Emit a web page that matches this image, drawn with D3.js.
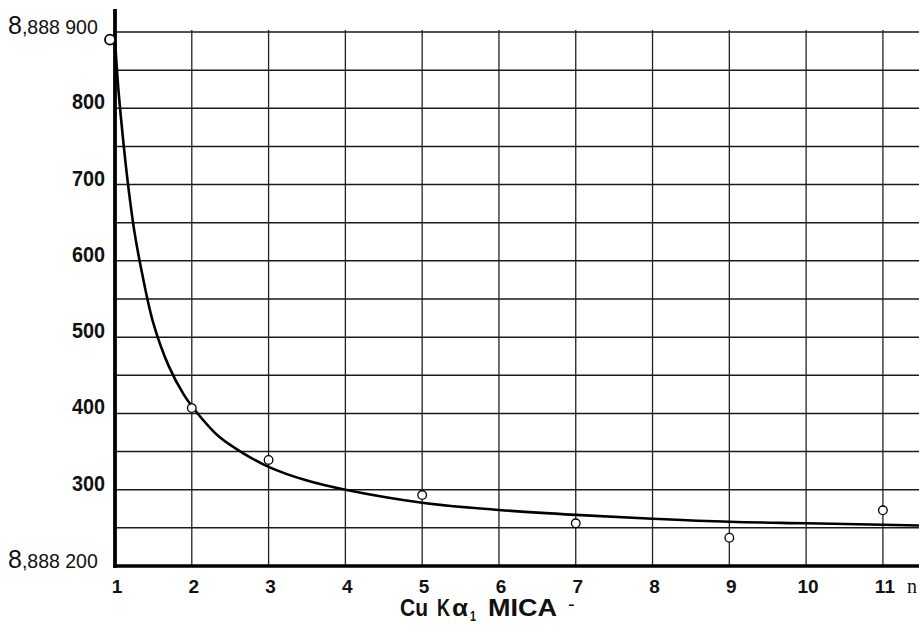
<!DOCTYPE html>
<html>
<head>
<meta charset="utf-8">
<script src="https://cdn.jsdelivr.net/npm/d3@7"></script>
<style>
  html, body { margin: 0; padding: 0; background: #fff; }
  svg { display: block; }
  .lab { font-family: "Liberation Sans", Arial, sans-serif; fill: #111; }
</style>
</head>
<body>
<svg id="chart" width="919" height="630"></svg>
<script>
// ---- data ----
const xTicks = [1, 2, 3, 4, 5, 6, 7, 8, 9, 10, 11];
const yTicks = [300, 400, 500, 600, 700, 800];
const yGrid = [200, 250, 300, 350, 400, 450, 500, 550, 600, 650, 700, 750, 800, 850, 900];
const yEndLabels = [{big: "8", rest: ",888 900", v: 900}, {big: "8", rest: ",888 200", v: 200}];
const pointN = [1, 2, 3, 5, 7, 9, 11];
const pointV = [890, 407, 339, 293, 256, 237, 273];
const curveN = [1, 1.04, 1.08, 1.12, 1.17, 1.25, 1.35, 1.5, 1.7, 1.9, 2.1, 2.35, 2.65, 3, 3.5, 4, 5, 6, 7, 8, 9, 10, 11, 11.47];
const curveV = [890, 830, 785, 745, 700, 640, 585, 518, 462, 424, 397, 370, 349, 330, 312, 300, 283, 273.5, 267, 262, 258, 256, 254, 253];

// title pieces: text, left edge, width, size, baseline shift
const titleParts = [
  {t: "Cu", x: 400, w: 28, s: 23, dy: 0},
  {t: "K", x: 437, w: 13, s: 23, dy: 0},
  {t: "α", x: 452, w: 16, s: 23, dy: 0},
  {t: "1", x: 470, w: 6, s: 14, dy: 5},
  {t: "MICA", x: 488, w: 69, s: 23, dy: 0}
];

const svg = d3.select("#chart");
const x = d3.scaleLinear().domain([1, 11.47]).range([115, 919]);
const y = d3.scaleLinear().domain([200, 900]).range([566, 32]);

// horizontal grid
svg.append("g").selectAll("line").data(yGrid.filter(v => v !== 200)).join("line")
  .attr("x1", x(1)).attr("x2", 919)
  .attr("y1", d => y(d)).attr("y2", d => y(d))
  .attr("stroke", "#1a1a1a").attr("stroke-width", 1.5);

// vertical grid
svg.append("g").selectAll("line").data(xTicks.filter(n => n > 1)).join("line")
  .attr("x1", d => x(d)).attr("x2", d => x(d))
  .attr("y1", y(900) - 2).attr("y2", y(200))
  .attr("stroke", "#222").attr("stroke-width", 1.3);

// axes (thick)
svg.append("line").attr("x1", x(1)).attr("x2", x(1)).attr("y1", 9).attr("y2", y(200) + 2)
  .attr("stroke", "#000").attr("stroke-width", 3.8);
svg.append("line").attr("x1", x(1) - 1.5).attr("x2", 919).attr("y1", y(200)).attr("y2", y(200))
  .attr("stroke", "#000").attr("stroke-width", 3.5);

// curve
const pts = curveN.map((n, i) => [n, curveV[i]]);
svg.append("path")
  .attr("d", d3.line().x(d => x(d[0])).y(d => y(d[1])).curve(d3.curveCatmullRom.alpha(0.5))(pts))
  .attr("fill", "none").attr("stroke", "#000").attr("stroke-width", 2.6);

// points
svg.append("g").selectAll("circle").data(pointN.map((n, i) => [n, pointV[i]])).join("circle")
  .attr("cx", d => x(d[0]) - (d[0] === 1 ? 5 : 0)).attr("cy", d => y(d[1]))
  .attr("r", d => d[0] === 1 ? 5 : 4.3)
  .attr("fill", "#fff").attr("stroke", "#000").attr("stroke-width", d => d[0] === 1 ? 1.8 : 1.3);

// y labels
svg.append("g").selectAll("text").data(yTicks).join("text")
  .attr("class", "lab")
  .attr("x", x(1) - 10).attr("y", d => y(d) + 1)
  .attr("text-anchor", "end")
  .attr("font-size", 22).attr("font-weight", "bold")
  .attr("transform", d => `translate(${(x(1) - 10) * 0.1},0) scale(0.9,1)`)
  .text(d => d);

yEndLabels.forEach(l => {
  const t = svg.append("text").attr("class", "lab")
    .attr("x", 8).attr("y", y(l.v) + 2);
  t.append("tspan").attr("font-size", 25).text(l.big);
  t.append("tspan").attr("font-size", 19.5).text(l.rest);
});

// x labels
svg.append("g").selectAll("text").data(xTicks).join("text")
  .attr("class", "lab")
  .attr("x", d => x(d) + 2).attr("y", 593)
  .attr("text-anchor", "middle")
  .attr("font-size", 19).attr("font-weight", "bold")
  .text(d => d);
svg.append("text").attr("x", 912).attr("y", 593)
  .attr("text-anchor", "middle")
  .attr("font-family", "Liberation Serif, serif").attr("font-size", 20).attr("fill", "#111")
  .text("n");

// title
svg.append("g").selectAll("text").data(titleParts).join("text")
  .attr("class", "lab")
  .attr("x", d => d.x).attr("y", d => 616 + d.dy)
  .attr("font-size", d => d.s).attr("font-weight", "bold")
  .attr("textLength", d => d.w).attr("lengthAdjust", "spacingAndGlyphs")
  .text(d => d.t);
svg.append("text").attr("class", "lab")
  .attr("x", 568).attr("y", 611).attr("font-size", 20)
  .text("-");
</script>
</body>
</html>
